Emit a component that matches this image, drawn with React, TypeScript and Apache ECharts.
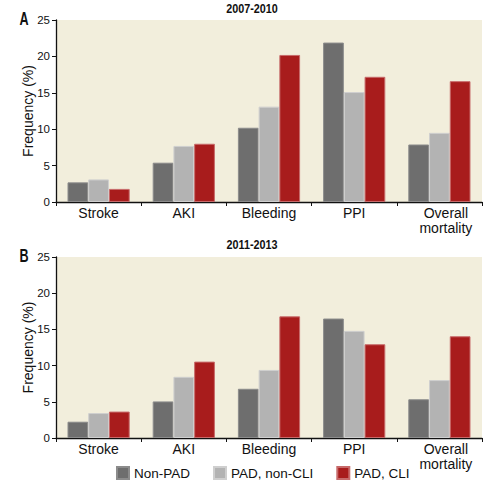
import React, { useEffect, useRef } from "react";
import * as echarts from "echarts";

const categories = ["Stroke", "AKI", "Bleeding", "PPI", "Overall\nmortality"];
const seriesNames = ["Non-PAD", "PAD, non-CLI", "PAD, CLI"];
const yTicks = [0, 5, 10, 15, 20, 25];

// Panel A: 2007-2010
const nonPad0710 = [2.7, 5.4, 10.2, 21.9, 7.9];
const padNonCli0710 = [3.1, 7.7, 13.1, 15.1, 9.5];
const padCli0710 = [1.8, 8.0, 20.2, 17.2, 16.6];

// Panel B: 2011-2013
const nonPad1113 = [2.25, 5.05, 6.8, 16.5, 5.35];
const padNonCli1113 = [3.45, 8.45, 9.4, 14.8, 8.0];
const padCli1113 = [3.65, 10.55, 16.8, 12.95, 14.05];

const panelTitles = ["2007-2010", "2011-2013"];
const panelLetters = ["A", "B"];

const FONT = "'Liberation Sans', Arial, sans-serif";
const colors = ["#6e6e6e", "#b3b3b3", "#a81c1c"];
const borders = ["#8c8c8c", "#cfcfcf", "#c76a6a"];

export default function App() {
  const ref = useRef<HTMLDivElement>(null);
  useEffect(() => {
    if (!ref.current) return;
    const chart = echarts.init(ref.current, null, { renderer: "svg" });
    const grids = [
      { left: 56, top: 20, width: 426, height: 182 },
      { left: 56, top: 257, width: 426, height: 181 },
    ];
    const catData = categories.map((c, i) =>
      i === categories.length - 1 ? { value: c, textStyle: { padding: [0, 0, 0, 13] } } : c
    );
    const mkX = (i: number) => ({
      type: "category",
      gridIndex: i,
      data: catData,
      boundaryGap: true,
      axisLine: { lineStyle: { color: "#111", width: 1.3 } },
      axisTick: { show: true, length: 4, lineStyle: { color: "#111" } },
      axisLabel: {
        color: "#111",
        fontFamily: FONT,
        fontSize: 14,
        lineHeight: 14.5,
        margin: 4,
        interval: 0,
      },
    });
    const mkY = (i: number) => ({
      type: "value",
      gridIndex: i,
      min: 0,
      max: 25,
      interval: 5,
      name: "Frequency (%)",
      nameLocation: "middle",
      nameGap: 21,
      nameMoveOverlap: false,
      nameTextStyle: { color: "#111", fontFamily: FONT, fontSize: 14 },
      axisLine: { show: true, lineStyle: { color: "#111", width: 1.3 } },
      axisTick: { show: true, length: 4, lineStyle: { color: "#111" } },
      splitLine: { show: false },
      axisLabel: {
        color: "#111",
        fontFamily: FONT,
        fontSize: 11.5,
        margin: 6,
        formatter: (v: number) => (yTicks.includes(v) ? String(v) : ""),
      },
    });
    const data = [
      [nonPad0710, padNonCli0710, padCli0710],
      [nonPad1113, padNonCli1113, padCli1113],
    ];
    const series: any[] = [];
    data.forEach((group, gi) => {
      group.forEach((vals, si) => {
        series.push({
          type: "bar",
          name: seriesNames[si],
          xAxisIndex: gi,
          yAxisIndex: gi,
          data: vals,
          barGap: "0%",
          barCategoryGap: "27%",
          itemStyle: { color: colors[si], borderColor: borders[si], borderWidth: 1 },
        });
      });
    });
    const titleGraphics = panelTitles.map((t, i) => ({
      type: "text",
      x: 252,
      y: i === 0 ? 9 : 245,
      scaleX: 0.8,
      style: {
        text: t,
        font: `bold 13.5px ${FONT}`,
        fill: "#111",
        textAlign: "center",
        textVerticalAlign: "middle",
      },
    }));
    const letterGraphics = panelLetters.map((l, i) => ({
      type: "text",
      x: 24,
      y: i === 0 ? 19 : 255.5,
      scaleX: 0.7,
      style: {
        text: l,
        font: `bold 18px ${FONT}`,
        fill: "#111",
        textAlign: "center",
        textVerticalAlign: "middle",
      },
    }));
    chart.setOption({
      animation: false,
      color: colors,
      grid: grids.map((g) => ({
        ...g,
        show: true,
        backgroundColor: "#f2eedc",
        borderWidth: 0,
      })),
      xAxis: [mkX(0), mkX(1)],
      yAxis: [mkY(0), mkY(1)],
      legend: {
        data: seriesNames,
        left: 116,
        top: 466,
        padding: 0,
        icon: "rect",
        itemWidth: 12,
        itemHeight: 12,
        itemGap: 23,
        textStyle: { fontFamily: FONT, fontSize: 13.5, lineHeight: 14, color: "#111" },
      },
      graphic: [...titleGraphics, ...letterGraphics],
      series,
    });
    return () => chart.dispose();
  }, []);
  return (
    <div
      ref={ref}
      style={{ position: "fixed", left: 0, top: 0, width: 502, height: 484, background: "#fff" }}
    />
  );
}
